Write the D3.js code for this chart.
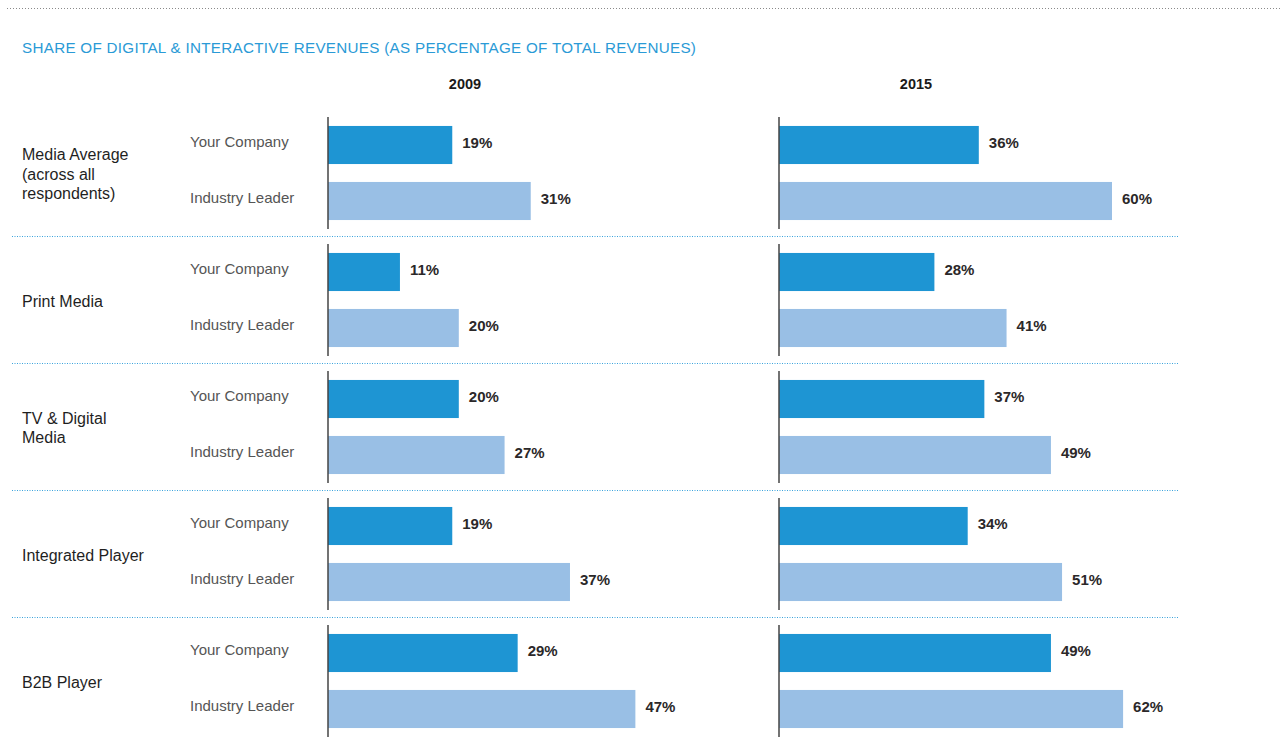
<!DOCTYPE html>
<html>
<head>
<meta charset="utf-8">
<script src="https://cdn.jsdelivr.net/npm/d3@7/dist/d3.min.js"></script>
<style>
  html, body { margin: 0; padding: 0; background: #fff; }
  svg { display: block; font-family: "Liberation Sans", Arial, sans-serif; }
</style>
</head>
<body>
<svg id="chart" width="1285" height="742"></svg>
<script>
// Segments (multi-line names split on "|")
const segments = ["Media Average|(across all|respondents)", "Print Media", "TV & Digital|Media", "Integrated Player", "B2B Player"];
const seriesNames = ["Your Company", "Industry Leader"];
const years = ["2009", "2015"];

// Share of digital & interactive revenues, in percent
const yourCompany2009 = [19, 11, 20, 19, 29];
const industryLeader2009 = [31, 20, 27, 37, 47];
const yourCompany2015 = [36, 28, 37, 34, 49];
const industryLeader2015 = [60, 41, 49, 51, 62];

const title = "SHARE OF DIGITAL & INTERACTIVE REVENUES (AS PERCENTAGE OF TOTAL REVENUES)";

const columns = [
  { year: years[0], values: [yourCompany2009, industryLeader2009], x0: 328, span: 654 },
  { year: years[1], values: [yourCompany2015, industryLeader2015], x0: 779, span: 555 }
];
const colors = ["#1e95d3", "#99bfe5"];

const svg = d3.select("#chart");

// top dotted rule
svg.append("line")
  .attr("x1", 7).attr("x2", 1282).attr("y1", 8.5).attr("y2", 8.5)
  .attr("stroke", "#8a8a8a").attr("stroke-width", 1)
  .attr("stroke-dasharray", "1,2");

svg.append("text")
  .attr("x", 22).attr("y", 53)
  .attr("fill", "#2a9ad6")
  .attr("font-size", 15.2)
  .attr("letter-spacing", 0.3)
  .text(title);

// vertical layout of the groups
const groupScale = d3.scaleBand().domain(d3.range(segments.length)).range([117, 117 + 127 * segments.length]).paddingInner(0);
const rowScale = d3.scaleBand().domain(seriesNames).range([0, 112]).paddingInner(0.32).paddingOuter(0.16);

columns.forEach(col => {
  const x = d3.scaleLinear().domain([0, 100]).range([col.x0, col.x0 + col.span]);

  svg.append("text")
    .attr("x", col.x0 + 137)
    .attr("y", 89)
    .attr("text-anchor", "middle")
    .attr("font-size", 14.5)
    .attr("font-weight", "bold")
    .attr("fill", "#1a1a1a")
    .text(col.year);

  segments.forEach((seg, gi) => {
    const gy = groupScale(gi);
    const g = svg.append("g").attr("transform", `translate(0,${gy})`);

    seriesNames.forEach((name, si) => {
      const v = col.values[si][gi];
      const y = rowScale(name);
      g.append("rect")
        .attr("x", x(0)).attr("y", y)
        .attr("width", x(v) - x(0)).attr("height", rowScale.bandwidth())
        .attr("fill", colors[si]);
      g.append("text")
        .attr("x", x(v) + 10).attr("y", y + rowScale.bandwidth() / 2 + 3)
        .attr("font-size", 15).attr("font-weight", "bold")
        .attr("fill", "#2b2829")
        .text(v + "%");
    });

    g.append("line")
      .attr("x1", x(0)).attr("x2", x(0))
      .attr("y1", 0).attr("y2", 112)
      .attr("stroke", "#444").attr("stroke-width", 1.5);
  });
});

segments.forEach((seg, gi) => {
  const gy = groupScale(gi);
  const g = svg.append("g").attr("transform", `translate(0,${gy})`);

  // row labels
  seriesNames.forEach(name => {
    g.append("text")
      .attr("x", 190).attr("y", rowScale(name) + rowScale.bandwidth() / 2 + 2)
      .attr("font-size", 15).attr("fill", "#555")
      .text(name);
  });

  // segment name
  const lines = seg.split("|");
  const lh = 19.5;
  const cy = 57 - (lines.length - 1) * lh / 2;
  lines.forEach((ln, li) => {
    g.append("text")
      .attr("x", 22).attr("y", cy + li * lh + 5.5)
      .attr("font-size", 16).attr("fill", "#1f1f1f")
      .text(ln);
  });

  // separator below each group except the last
  if (gi < segments.length - 1) {
    g.append("line")
      .attr("x1", 12).attr("x2", 1178)
      .attr("y1", 119.5).attr("y2", 119.5)
      .attr("stroke", "#3aa3dc").attr("stroke-width", 1)
      .attr("stroke-dasharray", "1,1.5");
  }
});
</script>
</body>
</html>
